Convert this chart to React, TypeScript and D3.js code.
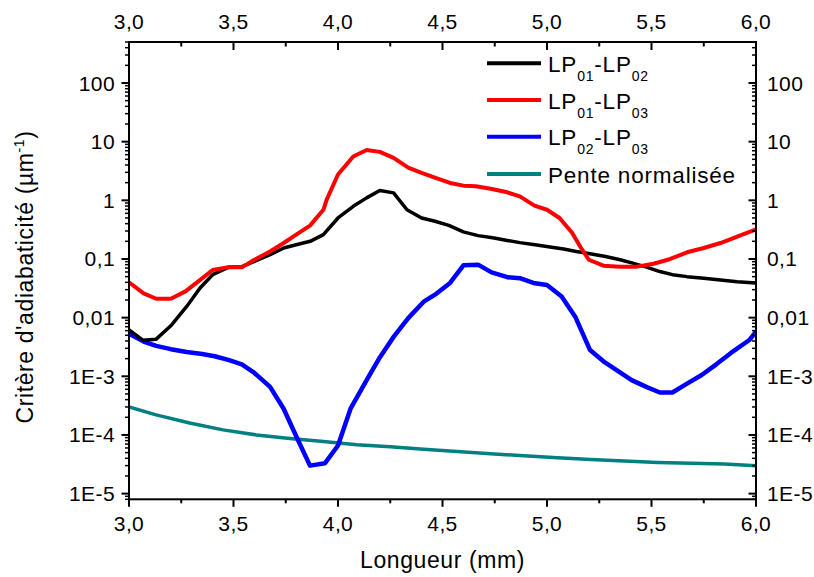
import React from "react";
import * as d3 from "d3";

// ---- Data ----
const xBlack = [3.0, 3.068, 3.13, 3.204, 3.276, 3.34, 3.40, 3.475, 3.54, 3.60, 3.675, 3.74, 3.80, 3.867, 3.93, 4.0, 4.073, 4.137, 4.20, 4.266, 4.33, 4.40, 4.464, 4.53, 4.60, 4.67, 4.74, 4.81, 4.87, 4.943, 5.014, 5.08, 5.14, 5.206, 5.28, 5.35, 5.41, 5.48, 5.54, 5.60, 5.67, 5.75, 5.83, 5.91, 6.0];
const yBlack = [0.0062, 0.0041, 0.0043, 0.0075, 0.0155, 0.032, 0.054, 0.072, 0.074, 0.091, 0.118, 0.154, 0.175, 0.20, 0.26, 0.50, 0.79, 1.1, 1.47, 1.34, 0.69, 0.50, 0.44, 0.375, 0.29, 0.25, 0.23, 0.207, 0.19, 0.175, 0.16, 0.148, 0.134, 0.123, 0.11, 0.097, 0.085, 0.072, 0.061, 0.054, 0.050, 0.047, 0.044, 0.041, 0.039];

const xRed = [3.0, 3.07, 3.13, 3.20, 3.27, 3.33, 3.40, 3.475, 3.54, 3.60, 3.675, 3.74, 3.80, 3.866, 3.93, 3.946, 4.0, 4.073, 4.137, 4.20, 4.266, 4.336, 4.40, 4.47, 4.536, 4.60, 4.66, 4.73, 4.81, 4.87, 4.94, 5.0, 5.06, 5.12, 5.16, 5.20, 5.27, 5.35, 5.43, 5.51, 5.59, 5.67, 5.75, 5.83, 5.91, 6.0];
const yRed = [0.040, 0.026, 0.021, 0.021, 0.028, 0.041, 0.065, 0.072, 0.072, 0.097, 0.134, 0.187, 0.26, 0.37, 0.69, 1.03, 2.75, 5.6, 7.2, 6.7, 5.3, 3.6, 2.94, 2.4, 1.98, 1.78, 1.74, 1.57, 1.37, 1.17, 0.81, 0.69, 0.50, 0.28, 0.16, 0.097, 0.077, 0.074, 0.074, 0.083, 0.10, 0.13, 0.154, 0.187, 0.24, 0.32];

const xBlue = [3.0, 3.07, 3.13, 3.20, 3.276, 3.35, 3.41, 3.475, 3.54, 3.60, 3.675, 3.74, 3.80, 3.866, 3.938, 4.0, 4.06, 4.137, 4.20, 4.266, 4.336, 4.41, 4.47, 4.536, 4.60, 4.67, 4.735, 4.81, 4.87, 4.935, 5.0, 5.07, 5.135, 5.206, 5.27, 5.333, 5.405, 5.475, 5.54, 5.60, 5.67, 5.74, 5.81, 5.88, 5.97, 6.0];
const yBlue = [0.0053, 0.0039, 0.0033, 0.0029, 0.0026, 0.0024, 0.0022, 0.0019, 0.0016, 0.00114, 0.00066, 0.00028, 0.000095, 0.00003, 0.000033, 0.000066, 0.00028, 0.00086, 0.0021, 0.0047, 0.0098, 0.0187, 0.0255, 0.039, 0.078, 0.080, 0.059, 0.049, 0.047, 0.039, 0.036, 0.023, 0.0104, 0.0028, 0.0018, 0.00128, 0.00086, 0.00066, 0.00053, 0.00053, 0.00075, 0.00105, 0.0016, 0.0025, 0.0042, 0.0058];

const xTeal = [3.0, 3.13, 3.29, 3.45, 3.61, 3.77, 3.93, 4.09, 4.25, 4.41, 4.57, 4.73, 4.89, 5.05, 5.21, 5.37, 5.53, 5.69, 5.85, 6.0];
const yTeal = [0.00030, 0.00022, 0.000160, 0.000122, 0.000100, 0.000087, 0.000077, 0.000068, 0.000063, 0.000057, 0.000052, 0.000048, 0.000044, 0.000041, 0.000038, 0.000036, 0.000034, 0.000033, 0.000032, 0.000030];

const xTicks = [3.0, 3.5, 4.0, 4.5, 5.0, 5.5, 6.0];
const xTickLabels = ["3,0", "3,5", "4,0", "4,5", "5,0", "5,5", "6,0"];
const xMinorTicks = [3.25, 3.75, 4.25, 4.75, 5.25, 5.75];
const yTicks = [100, 10, 1, 0.1, 0.01, 0.001, 0.0001, 0.00001];
const yTickLabels = ["100", "10", "1", "0,1", "0,01", "1E-3", "1E-4", "1E-5"];

const seriesNames = [
  { main: ["LP", "01", "-LP", "02"], color: "#000000", w: 3.5 },
  { main: ["LP", "01", "-LP", "03"], color: "#ff0000", w: 4 },
  { main: ["LP", "02", "-LP", "03"], color: "#0000ff", w: 4.5 },
  { main: ["Pente normalisée"], color: "#008080", w: 3.5 },
];

const FONT = "'Liberation Sans', Arial, sans-serif";

export default function App() {
  const W = 814, H = 577;
  const left = 129, right = 756, top = 42, bottom = 499.3;
  const x = d3.scaleLinear().domain([3, 6]).range([left, right]);
  const y = d3.scaleLog().domain([8e-6, 500]).range([bottom, top]);

  const line = (xs: number[], ys: number[]) =>
    d3.line<number>().x((_, i) => x(xs[i])).y((v) => y(v))(ys) || "";

  const series = [
    { xs: xTeal, ys: yTeal, ...seriesNames[3] },
    { xs: xBlue, ys: yBlue, ...seriesNames[2] },
    { xs: xBlack, ys: yBlack, ...seriesNames[0] },
    { xs: xRed, ys: yRed, ...seriesNames[1] },
  ];

  const minorY: number[] = [];
  for (let e = -6; e <= 2; e++) {
    for (let m = 2; m <= 9; m++) {
      const v = m * Math.pow(10, e);
      if (v >= 8e-6 && v <= 500) minorY.push(v);
    }
  }

  const legendRows = [63.3, 100, 136.7, 174];
  const tickFS = 21;
  const tickLS = 0.4;

  return (
    <svg width={W} height={H} style={{ position: "absolute", left: 0, top: 0, background: "#fff" }} fontFamily={FONT}>
      <rect x={0} y={0} width={W} height={H} fill="#fff" />
      <defs>
        <clipPath id="plotclip">
          <rect x={left} y={top} width={right - left} height={bottom - top} />
        </clipPath>
      </defs>

      <g clipPath="url(#plotclip)">
        {series.map((s, i) => (
          <path key={i} d={line(s.xs, s.ys)} fill="none" stroke={s.color} strokeWidth={s.w} strokeLinejoin="round" />
        ))}
      </g>

      <rect x={left} y={top} width={right - left} height={bottom - top} fill="none" stroke="#000" strokeWidth={2} />

      {xTicks.map((t, i) => (
        <g key={"xt" + i}>
          <line x1={x(t)} x2={x(t)} y1={bottom} y2={bottom + 7.5} stroke="#000" strokeWidth={2} />
          <line x1={x(t)} x2={x(t)} y1={top} y2={top + 8} stroke="#000" strokeWidth={2} />
          <text x={x(t)} y={530.5} textAnchor="middle" fontSize={tickFS} letterSpacing={tickLS}>{xTickLabels[i]}</text>
          <text x={x(t)} y={29} textAnchor="middle" fontSize={tickFS} letterSpacing={tickLS}>{xTickLabels[i]}</text>
        </g>
      ))}
      {xMinorTicks.map((t, i) => (
        <g key={"xm" + i}>
          <line x1={x(t)} x2={x(t)} y1={bottom} y2={bottom + 4} stroke="#000" strokeWidth={2} />
          <line x1={x(t)} x2={x(t)} y1={top} y2={top + 4.5} stroke="#000" strokeWidth={2} />
        </g>
      ))}

      {yTicks.map((t, i) => (
        <g key={"yt" + i}>
          <line x1={left - 7.5} x2={left} y1={y(t)} y2={y(t)} stroke="#000" strokeWidth={2} />
          <line x1={right - 7.5} x2={right} y1={y(t)} y2={y(t)} stroke="#000" strokeWidth={2} />
          <text x={115} y={y(t) + 7.5} textAnchor="end" fontSize={tickFS} letterSpacing={tickLS}>{yTickLabels[i]}</text>
          <text x={767} y={y(t) + 7.5} textAnchor="start" fontSize={tickFS} letterSpacing={tickLS}>{yTickLabels[i]}</text>
        </g>
      ))}
      {minorY.map((t, i) => (
        <g key={"ym" + i}>
          <line x1={left - 4} x2={left} y1={y(t)} y2={y(t)} stroke="#000" strokeWidth={1.5} />
          <line x1={right - 4} x2={right} y1={y(t)} y2={y(t)} stroke="#000" strokeWidth={1.5} />
        </g>
      ))}

      <text x={442.5} y={568} textAnchor="middle" fontSize={23} letterSpacing={0.6}>Longueur (mm)</text>
      <text transform="translate(33,277) rotate(-90)" textAnchor="middle" fontSize={23} letterSpacing={0.6}>
        Critère d'adiabaticité (µm<tspan dy={-9} fontSize={14}>-1</tspan><tspan dy={9} fontSize={23}>)</tspan>
      </text>

      {seriesNames.map((s, i) => (
        <g key={"lg" + i}>
          <line x1={487} x2={541} y1={legendRows[i]} y2={legendRows[i]} stroke={s.color} strokeWidth={4} />
          {s.main.length === 1 ? (
            <text x={548} y={legendRows[i] + 8.5} fontSize={22.5} letterSpacing={0.8}>{s.main[0]}</text>
          ) : (
            <text x={548} y={legendRows[i] + 8.5} fontSize={22.5} letterSpacing={0.8}>
              {s.main[0]}
              <tspan dy={9} fontSize={14}>{s.main[1]}</tspan>
              <tspan dy={-9} fontSize={22.5}>{s.main[2]}</tspan>
              <tspan dy={9} fontSize={14}>{s.main[3]}</tspan>
            </text>
          )}
        </g>
      ))}
    </svg>
  );
}
